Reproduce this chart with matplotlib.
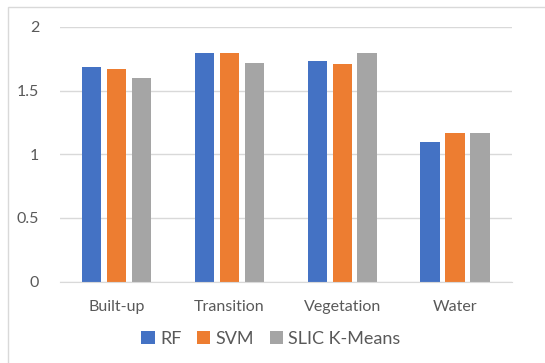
import matplotlib.pyplot as plt
import numpy as np
from matplotlib.patches import Rectangle

# ── data ──────────────────────────────────────────────────────────────────────
classes = ["Built-up", "Transition", "Vegetation", "Water"]
rf = [1.683, 1.793, 1.731, 1.099]
svm = [1.670, 1.793, 1.707, 1.165]
slic = [1.600, 1.715, 1.793, 1.170]
series = {"RF": rf, "SVM": svm, "SLIC K-Means": slic}
colors = {"RF": "#4472C4", "SVM": "#ED7D31", "SLIC K-Means": "#A5A5A5"}

plt.rcParams["font.family"] = ["Lato", "DejaVu Sans"]
text_c = "#595959"

# ── plot ──────────────────────────────────────────────────────────────────────
fig = plt.figure(figsize=(5.45, 3.63), dpi=100)
ax = fig.add_axes([0.110, 0.224, 0.829, 0.702])

x = np.arange(len(classes))
step, width = 0.221, 0.174
for i, (name, vals) in enumerate(series.items()):
    ax.bar(x + (i - 1) * step, vals, width, color=colors[name], label=name,
           zorder=3)

ax.set_xlim(-0.5, len(classes) - 0.5)
ax.set_ylim(0, 2)
ax.set_yticks([0, 0.5, 1, 1.5, 2])
ax.set_yticklabels(["0", "0.5", "1", "1.5", "2"])
ax.set_xticks(x)
ax.set_xticklabels(classes)
ax.tick_params(axis="both", length=0, colors=text_c, labelsize=11.5)
ax.tick_params(axis="y", pad=15)
ax.tick_params(axis="x", pad=13)
ax.grid(axis="y", color="#D9D9D9", lw=1, zorder=0)
ax.set_axisbelow(True)
for side in ("top", "right", "left"):
    ax.spines[side].set_visible(False)
ax.spines["bottom"].set_color("#D9D9D9")
ax.spines["bottom"].set_zorder(4)

leg = fig.legend(loc="center", bbox_to_anchor=(0.497, 0.066), ncol=3,
                 frameon=False, fontsize=13, handlelength=0.75,
                 handleheight=0.75, handletextpad=0.3, columnspacing=0.85)
for t in leg.get_texts():
    t.set_color(text_c)

# chart area border
fig.patches.append(Rectangle((8 / 545, -0.01), 0.99, 1 - 7 / 363 + 0.01,
                             transform=fig.transFigure, fill=False,
                             edgecolor="#D9D9D9", lw=1))

fig.savefig("out.png", dpi=100)
